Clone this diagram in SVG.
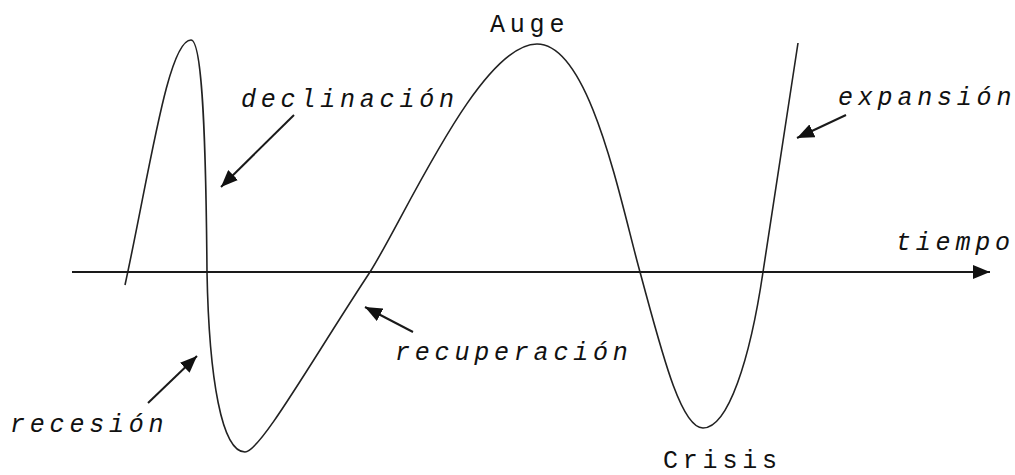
<svg xmlns="http://www.w3.org/2000/svg" width="1015" height="475" viewBox="0 0 1015 475">
<defs>
<style>
.lbl{font-family:"Liberation Mono","Courier New",monospace;font-size:25px;font-style:italic;letter-spacing:4.8px;fill:#111}
.up{font-family:"Liberation Mono","Courier New",monospace;font-size:25px;letter-spacing:4.8px;fill:#111}
.conn{stroke:#1a1a1a;stroke-width:2;fill:none}
.curve{stroke:#222;stroke-width:1.6;fill:none}
</style>
<marker id="ah" markerUnits="userSpaceOnUse" markerWidth="18" markerHeight="14" refX="17" refY="7" orient="auto">
<path d="M0,0 L17,7 L0,14 z" fill="#111"/>
</marker>
</defs>
<rect width="1015" height="475" fill="#fff"/>
<g id="curve">
<path class="curve" d="M125,285 C150,170 168,40 191,40 C203,40 206,150 207,272 C209,380 222,452 245,452 C260,452 312,360 370,272 C405,217 480,44 537,44 C590,44 620,200 640,272 C660,345 680,428 703,428 C728,428 750,360 763,272 C776,184 790,100 798,43"/>
</g>
<g id="connectors">
<line class="conn" x1="72" y1="272" x2="990" y2="272" marker-end="url(#ah)"/>
<line class="conn" x1="294" y1="115" x2="221" y2="187" marker-end="url(#ah)"/>
<line class="conn" x1="148" y1="403" x2="197" y2="356" marker-end="url(#ah)"/>
<line class="conn" x1="413" y1="332" x2="365" y2="307" marker-end="url(#ah)"/>
<line class="conn" x1="846" y1="115" x2="797" y2="138" marker-end="url(#ah)"/>
</g>
<g id="declinacion"><text class="lbl" x="241" y="107">declinación</text></g>
<g id="recuperacion"><text class="lbl" x="395" y="360">recuperación</text></g>
<g id="expansion"><text class="lbl" x="838" y="105">expansión</text></g>
<g id="tiempo"><text class="lbl" x="896" y="250">tiempo</text></g>
<g id="recesion"><text class="lbl" x="10" y="432">recesión</text></g>
<g id="auge"><text class="up" x="490" y="32">Auge</text></g>
<g id="crisis"><text class="up" x="663" y="468">Crisis</text></g>
</svg>
